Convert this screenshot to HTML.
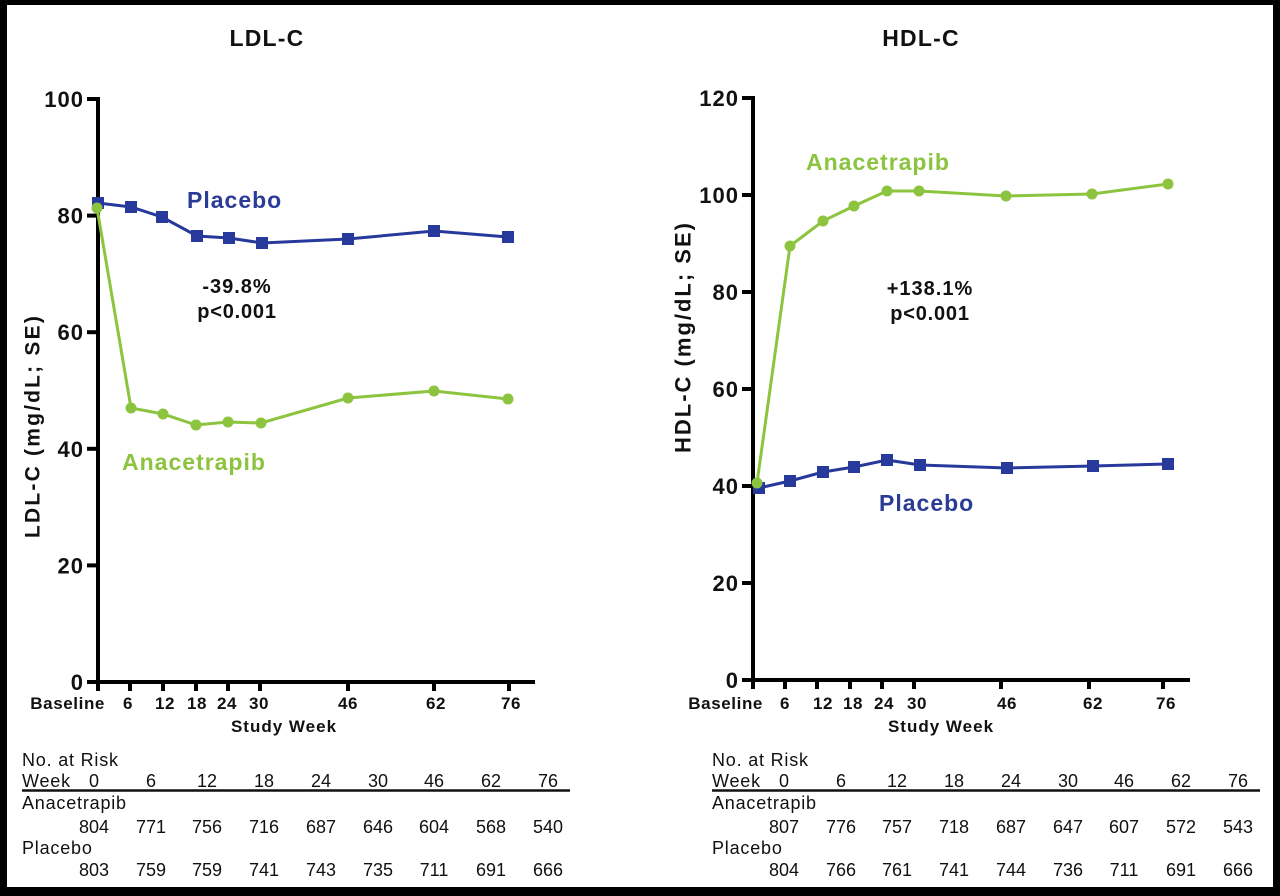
<!DOCTYPE html>
<html><head><meta charset="utf-8"><style>
html,body{margin:0;padding:0;background:#fff;}
svg{display:block;}
text{font-family:"Liberation Sans",Arial,sans-serif;}
.b{font-weight:bold;}
</style></head><body>
<svg width="1280" height="896" viewBox="0 0 1280 896" xmlns="http://www.w3.org/2000/svg">
<rect x="0" y="0" width="1280" height="896" fill="#fff"/>
<!-- frame -->
<rect x="0" y="0" width="1280" height="5" fill="#000"/>
<rect x="0" y="0" width="7" height="896" fill="#000"/>
<rect x="1273" y="0" width="7" height="896" fill="#000"/>
<rect x="0" y="887" width="1280" height="9" fill="#000"/>

<!-- ================= LEFT PANEL ================= -->
<text x="267" y="46" class="b" font-size="23" letter-spacing="1.2" text-anchor="middle" fill="#111">LDL-C</text>

<!-- axes -->
<g stroke="#000" stroke-width="4" fill="none">
<line x1="98" y1="97" x2="98" y2="684"/>
<line x1="96" y1="682" x2="535" y2="682"/>
<line x1="87" y1="99" x2="98" y2="99"/>
<line x1="87" y1="215.6" x2="98" y2="215.6"/>
<line x1="87" y1="332.2" x2="98" y2="332.2"/>
<line x1="87" y1="448.8" x2="98" y2="448.8"/>
<line x1="87" y1="565.4" x2="98" y2="565.4"/>
<line x1="87" y1="682" x2="98" y2="682"/>
<line x1="98" y1="682" x2="98" y2="691"/>
<line x1="130" y1="682" x2="130" y2="691"/>
<line x1="163" y1="682" x2="163" y2="691"/>
<line x1="196" y1="682" x2="196" y2="691"/>
<line x1="228" y1="682" x2="228" y2="691"/>
<line x1="260" y1="682" x2="260" y2="691"/>
<line x1="348" y1="682" x2="348" y2="691"/>
<line x1="434" y1="682" x2="434" y2="691"/>
<line x1="509" y1="682" x2="509" y2="691"/>
</g>
<g class="b" font-size="22" letter-spacing="1" text-anchor="end" fill="#111">
<text x="84" y="107">100</text>
<text x="84" y="223.6">80</text>
<text x="84" y="340.2">60</text>
<text x="84" y="456.8">40</text>
<text x="84" y="573.4">20</text>
<text x="84" y="690">0</text>
</g>
<g class="b" font-size="17" letter-spacing="0.6" text-anchor="middle" fill="#111">
<text x="105" y="709" text-anchor="end">Baseline</text>
<text x="128" y="709">6</text>
<text x="165" y="709">12</text>
<text x="197" y="709">18</text>
<text x="227" y="709">24</text>
<text x="259" y="709">30</text>
<text x="348" y="709">46</text>
<text x="436" y="709">62</text>
<text x="511" y="709">76</text>
<text x="284" y="732" letter-spacing="1">Study Week</text>
</g>
<text transform="translate(32,426) rotate(-90)" x="0" y="7.4" class="b" font-size="21" letter-spacing="2.2" text-anchor="middle" fill="#111">LDL-C (mg/dL; SE)</text>

<!-- placebo series -->
<polyline fill="none" stroke="#27399a" stroke-width="3" points="98,203 131,207 162,217 197,236 229,238 262,243 348,239 434,231 508,237"/>
<g fill="#27399a">
<rect x="92" y="197" width="12" height="12"/>
<rect x="125" y="201" width="12" height="12"/>
<rect x="156" y="211" width="12" height="12"/>
<rect x="191" y="230" width="12" height="12"/>
<rect x="223" y="232" width="12" height="12"/>
<rect x="256" y="237" width="12" height="12"/>
<rect x="342" y="233" width="12" height="12"/>
<rect x="428" y="225" width="12" height="12"/>
<rect x="502" y="231" width="12" height="12"/>
</g>
<!-- anacetrapib series -->
<polyline fill="none" stroke="#8cc43f" stroke-width="3" points="97,208 131,408 163,414 196,425 228,422 261,423 348,398 434,391 508,399"/>
<g fill="#8cc43f">
<circle cx="97" cy="208" r="5.5"/>
<circle cx="131" cy="408" r="5.5"/>
<circle cx="163" cy="414" r="5.5"/>
<circle cx="196" cy="425" r="5.5"/>
<circle cx="228" cy="422" r="5.5"/>
<circle cx="261" cy="423" r="5.5"/>
<circle cx="348" cy="398" r="5.5"/>
<circle cx="434" cy="391" r="5.5"/>
<circle cx="508" cy="399" r="5.5"/>
</g>
<text x="187" y="208" class="b" font-size="23" letter-spacing="1" fill="#2b3c96">Placebo</text>
<text x="122" y="470" class="b" font-size="23" letter-spacing="1" fill="#8cc43f">Anacetrapib</text>
<text x="237" y="293" class="b" font-size="20" letter-spacing="1" text-anchor="middle" fill="#111">-39.8%</text>
<text x="237" y="318" class="b" font-size="20" letter-spacing="0.8" text-anchor="middle" fill="#111">p&lt;0.001</text>

<!-- left table -->
<g font-size="18" fill="#111">
<text x="22" y="766" letter-spacing="0.8">No. at Risk</text>
<text x="22" y="787" letter-spacing="0.8">Week</text>
<text x="22" y="809" letter-spacing="0.8">Anacetrapib</text>
<text x="22" y="854" letter-spacing="0.8">Placebo</text>
</g>
<line x1="22" y1="790.5" x2="570" y2="790.5" stroke="#111" stroke-width="2.5"/>
<g font-size="18" fill="#111" text-anchor="middle">
<text x="94" y="787">0</text><text x="151" y="787">6</text><text x="207" y="787">12</text><text x="264" y="787">18</text><text x="321" y="787">24</text><text x="378" y="787">30</text><text x="434" y="787">46</text><text x="491" y="787">62</text><text x="548" y="787">76</text>
<text x="94" y="833">804</text><text x="151" y="833">771</text><text x="207" y="833">756</text><text x="264" y="833">716</text><text x="321" y="833">687</text><text x="378" y="833">646</text><text x="434" y="833">604</text><text x="491" y="833">568</text><text x="548" y="833">540</text>
<text x="94" y="876">803</text><text x="151" y="876">759</text><text x="207" y="876">759</text><text x="264" y="876">741</text><text x="321" y="876">743</text><text x="378" y="876">735</text><text x="434" y="876">711</text><text x="491" y="876">691</text><text x="548" y="876">666</text>
</g>

<!-- ================= RIGHT PANEL ================= -->
<text x="921" y="46" class="b" font-size="23" letter-spacing="1.2" text-anchor="middle" fill="#111">HDL-C</text>
<g stroke="#000" stroke-width="4" fill="none">
<line x1="753" y1="96" x2="753" y2="682"/>
<line x1="751" y1="680" x2="1190" y2="680"/>
<line x1="742" y1="98" x2="753" y2="98"/>
<line x1="742" y1="195" x2="753" y2="195"/>
<line x1="742" y1="292" x2="753" y2="292"/>
<line x1="742" y1="389" x2="753" y2="389"/>
<line x1="742" y1="486" x2="753" y2="486"/>
<line x1="742" y1="583" x2="753" y2="583"/>
<line x1="742" y1="680" x2="753" y2="680"/>
<line x1="753" y1="680" x2="753" y2="689"/>
<line x1="785" y1="680" x2="785" y2="689"/>
<line x1="817" y1="680" x2="817" y2="689"/>
<line x1="850" y1="680" x2="850" y2="689"/>
<line x1="882" y1="680" x2="882" y2="689"/>
<line x1="914" y1="680" x2="914" y2="689"/>
<line x1="1001" y1="680" x2="1001" y2="689"/>
<line x1="1089" y1="680" x2="1089" y2="689"/>
<line x1="1163" y1="680" x2="1163" y2="689"/>
</g>
<g class="b" font-size="22" letter-spacing="1" text-anchor="end" fill="#111">
<text x="739" y="106">120</text>
<text x="739" y="203">100</text>
<text x="739" y="300">80</text>
<text x="739" y="397">60</text>
<text x="739" y="494">40</text>
<text x="739" y="591">20</text>
<text x="739" y="688">0</text>
</g>
<g class="b" font-size="17" letter-spacing="0.6" text-anchor="middle" fill="#111">
<text x="763" y="709" text-anchor="end">Baseline</text>
<text x="785" y="709">6</text>
<text x="823" y="709">12</text>
<text x="853" y="709">18</text>
<text x="884" y="709">24</text>
<text x="917" y="709">30</text>
<text x="1007" y="709">46</text>
<text x="1093" y="709">62</text>
<text x="1166" y="709">76</text>
<text x="941" y="732" letter-spacing="1">Study Week</text>
</g>
<text transform="translate(683,337) rotate(-90)" x="0" y="7.7" class="b" font-size="22" letter-spacing="2" text-anchor="middle" fill="#111">HDL-C (mg/dL; SE)</text>

<polyline fill="none" stroke="#27399a" stroke-width="3" points="759,488 790,481 823,472 854,467 887,460 920,465 1007,468 1093,466 1168,464"/>
<g fill="#27399a">
<rect x="753" y="482" width="12" height="12"/>
<rect x="784" y="475" width="12" height="12"/>
<rect x="817" y="466" width="12" height="12"/>
<rect x="848" y="461" width="12" height="12"/>
<rect x="881" y="454" width="12" height="12"/>
<rect x="914" y="459" width="12" height="12"/>
<rect x="1001" y="462" width="12" height="12"/>
<rect x="1087" y="460" width="12" height="12"/>
<rect x="1162" y="458" width="12" height="12"/>
</g>
<polyline fill="none" stroke="#8cc43f" stroke-width="3" points="757,483 790,246 823,221 854,206 887,191 919,191 1006,196 1092,194 1168,184"/>
<g fill="#8cc43f">
<circle cx="757" cy="483" r="5.5"/>
<circle cx="790" cy="246" r="5.5"/>
<circle cx="823" cy="221" r="5.5"/>
<circle cx="854" cy="206" r="5.5"/>
<circle cx="887" cy="191" r="5.5"/>
<circle cx="919" cy="191" r="5.5"/>
<circle cx="1006" cy="196" r="5.5"/>
<circle cx="1092" cy="194" r="5.5"/>
<circle cx="1168" cy="184" r="5.5"/>
</g>
<text x="806" y="170" class="b" font-size="23" letter-spacing="1" fill="#8cc43f">Anacetrapib</text>
<text x="879" y="511" class="b" font-size="23" letter-spacing="1" fill="#2b3c96">Placebo</text>
<text x="930" y="295" class="b" font-size="20" letter-spacing="1" text-anchor="middle" fill="#111">+138.1%</text>
<text x="930" y="320" class="b" font-size="20" letter-spacing="0.8" text-anchor="middle" fill="#111">p&lt;0.001</text>

<!-- right table -->
<g font-size="18" fill="#111">
<text x="712" y="766" letter-spacing="0.8">No. at Risk</text>
<text x="712" y="787" letter-spacing="0.8">Week</text>
<text x="712" y="809" letter-spacing="0.8">Anacetrapib</text>
<text x="712" y="854" letter-spacing="0.8">Placebo</text>
</g>
<line x1="712" y1="790.5" x2="1260" y2="790.5" stroke="#111" stroke-width="2.5"/>
<g font-size="18" fill="#111" text-anchor="middle">
<text x="784" y="787">0</text><text x="841" y="787">6</text><text x="897" y="787">12</text><text x="954" y="787">18</text><text x="1011" y="787">24</text><text x="1068" y="787">30</text><text x="1124" y="787">46</text><text x="1181" y="787">62</text><text x="1238" y="787">76</text>
<text x="784" y="833">807</text><text x="841" y="833">776</text><text x="897" y="833">757</text><text x="954" y="833">718</text><text x="1011" y="833">687</text><text x="1068" y="833">647</text><text x="1124" y="833">607</text><text x="1181" y="833">572</text><text x="1238" y="833">543</text>
<text x="784" y="876">804</text><text x="841" y="876">766</text><text x="897" y="876">761</text><text x="954" y="876">741</text><text x="1011" y="876">744</text><text x="1068" y="876">736</text><text x="1124" y="876">711</text><text x="1181" y="876">691</text><text x="1238" y="876">666</text>
</g>
</svg>
</body></html>
